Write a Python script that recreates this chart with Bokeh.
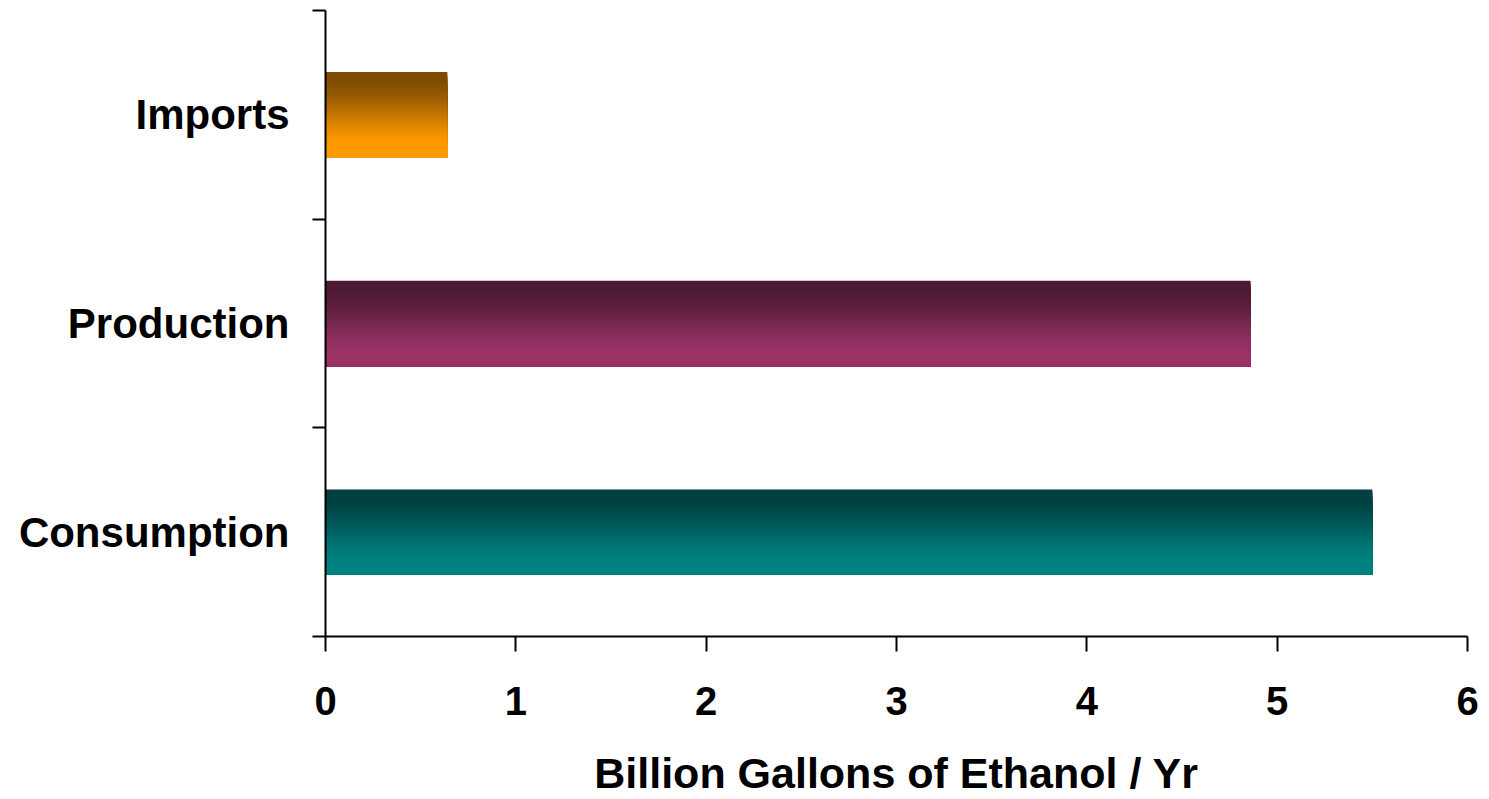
from bokeh.plotting import figure
from bokeh.models import Range1d, FixedTicker, ColumnDataSource
from bokeh.embed import file_html
from bokeh.resources import INLINE

# ---- data ----
categories = ["Consumption", "Production", "Imports"]
values = [5.5, 4.86, 0.64]
base_colors = ["#008080", "#993366", "#FF9900"]
x_ticks = [0, 1, 2, 3, 4, 5, 6]
x_label = "Billion Gallons of Ethanol / Yr"

BAR_H = 0.41
N = 40

def hex_to_rgb(h):
    h = h.lstrip("#")
    return tuple(int(h[i:i + 2], 16) for i in (0, 2, 4))

def rgb_to_hex(c):
    return "#%02x%02x%02x" % tuple(int(round(v)) for v in c)

p = figure(width=1489, height=799, output_backend="svg", toolbar_location=None,
           x_range=Range1d(0, 6), y_range=Range1d(0, len(categories)),
           min_border_left=325, min_border_right=22, min_border_top=10, min_border_bottom=163)
p.outline_line_color = None
p.xgrid.visible = False
p.ygrid.visible = False
p.background_fill_color = "white"
p.border_fill_color = "white"

# gradient bars: nested rectangles from bar top down to bar bottom
lefts, rights, tops, bottoms, fills = [], [], [], [], []
for i, (cat, v, col) in enumerate(zip(categories, values, base_colors)):
    c = i + 0.5
    top = c + BAR_H / 2
    bot = c - BAR_H / 2
    light = hex_to_rgb(col)
    dark = tuple(x * 0.5 for x in light)
    for k in range(N):
        t = k / (N - 1)
        s = min(max((t - 0.1) / 0.75, 0.0), 1.0)
        s = s * s * (3 - 2 * s) * 0.5 + s * 0.5
        rgb = tuple(d + (l - d) * s for d, l in zip(dark, light))
        lefts.append(0)
        rights.append(v)
        tops.append(top - k * BAR_H / N)
        bottoms.append(bot)
        fills.append(rgb_to_hex(rgb))

src = ColumnDataSource(dict(left=lefts, right=rights, top=tops, bottom=bottoms, fill=fills))
p.quad(left="left", right="right", top="top", bottom="bottom", source=src,
       fill_color="fill", line_color=None)

FONT = "Liberation Sans"

# x axis
xa = p.xaxis[0]
xa.ticker = FixedTicker(ticks=x_ticks)
xa.axis_line_color = "black"
xa.axis_line_width = 2
xa.major_tick_line_color = "black"
xa.major_tick_line_width = 2
xa.major_tick_in = 0
xa.major_tick_out = 15
xa.minor_tick_line_color = None
xa.major_label_text_font = FONT
xa.major_label_text_font_style = "bold"
xa.major_label_text_font_size = "40px"
xa.major_label_text_color = "black"
xa.major_label_standoff = 35
xa.axis_label = x_label
xa.axis_label_text_font = FONT
xa.axis_label_text_font_style = "bold"
xa.axis_label_text_font_size = "43px"
xa.axis_label_text_color = "black"
xa.axis_label_standoff = 31

# y axis: labels at category centres, ticks at boundaries
ya = p.yaxis[0]
ya.ticker = FixedTicker(ticks=[i + 0.5 for i in range(len(categories))],
                        minor_ticks=list(range(len(categories) + 1)))
ya.major_label_overrides = {i + 0.5: cat for i, cat in enumerate(categories)}
ya.axis_line_color = "black"
ya.axis_line_width = 2
ya.major_tick_line_color = None
ya.major_tick_in = 0
ya.major_tick_out = 0
ya.minor_tick_line_color = "black"
ya.minor_tick_line_width = 2
ya.minor_tick_in = 0
ya.minor_tick_out = 13
ya.major_label_text_font = FONT
ya.major_label_text_font_style = "bold"
ya.major_label_text_font_size = "42px"
ya.major_label_text_color = "black"
ya.major_label_standoff = 23

open("out.html", "w").write(file_html(p, INLINE))
